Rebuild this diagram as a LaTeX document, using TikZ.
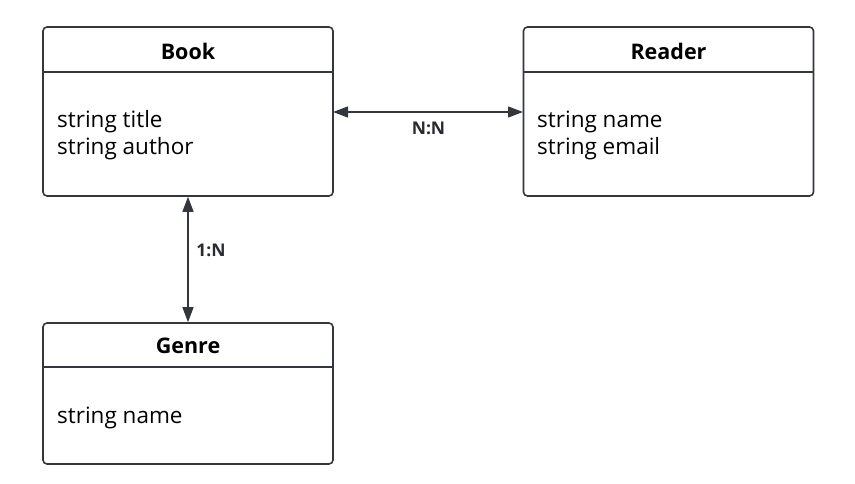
\documentclass[tikz,border=0pt]{standalone}
\usepackage{fontspec}
\setmainfont{Open Sans}
\usetikzlibrary{arrows.meta}
\definecolor{edge}{HTML}{33363D}
\tikzset{
  entity/.style={draw=edge, line width=1.6pt, rounded corners=4pt, minimum width=290pt, inner sep=0pt, fill=white},
  title/.style={font=\fontsize{21.5}{24}\selectfont\bfseries, text=black, inner sep=0pt},
  field/.style={font=\fontsize{22.5}{26}\selectfont, text=black, inner sep=0pt, anchor=base west},
  sep/.style={draw=edge, line width=1.6pt},
  rel/.style={draw=edge, line width=1.3pt, {Triangle[length=15pt,width=11pt]}-{Triangle[length=15pt,width=11pt]}},
  card/.style={font=\fontsize{17.5}{20}\selectfont\bfseries, text=edge!80!black, inner sep=0pt}
}
\begin{document}
\begin{tikzpicture}[x=1pt,y=-1pt]
\useasboundingbox (0,0) rectangle (855,484);
% boxes
\node[entity, minimum height=169pt] (book) at (188,111.5) {};
\node[entity, minimum height=169pt] (reader) at (668.5,111.5) {};
\node[entity, minimum height=141pt] (genre) at (188,393.5) {};
% header separators
\coordinate (bs1) at (43,72); \coordinate (bs2) at (333,72);
\draw[sep] (bs1) -- (bs2);
\coordinate (rs1) at (523,72); \coordinate (rs2) at (814,72);
\draw[sep] (rs1) -- (rs2);
\coordinate (gs1) at (43,367); \coordinate (gs2) at (333,367);
\draw[sep] (gs1) -- (gs2);
% titles
\node[title] (bookt) at (188,51) {Book};
\node[title] (readert) at (668.5,51) {Reader};
\node[title] (genret) at (188,346) {Genre};
% fields
\node[field] (bf1) at (57,128) {string title};
\node[field] (bf2) at (57,155) {string author};
\node[field] (rf1) at (537,128) {string name};
\node[field] (rf2) at (537,155) {string email};
\node[field] (gf1) at (57,423) {string name};
% relations
\coordinate (bookr) at (333,112);
\coordinate (readerl) at (523,112);
\draw[rel] (bookr) -- (readerl);
\draw[rel] (book.south) -- (genre.north);
\node[card] (nn) at (428.5,128) {N:N};
\node[card] (on) at (211,250) {1:N};
\end{tikzpicture}
\end{document}
